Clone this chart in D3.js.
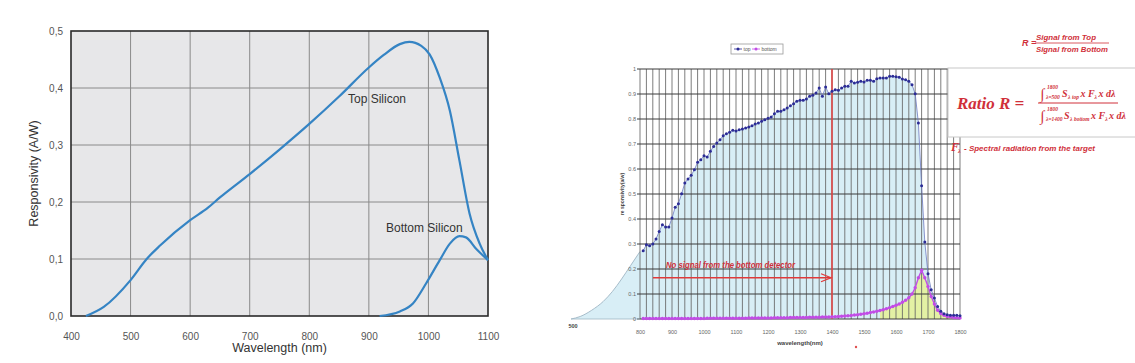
<!DOCTYPE html>
<html>
<head>
<meta charset="utf-8">
<script src="https://cdn.jsdelivr.net/npm/d3@7"></script>
<style>
  body { margin: 0; background: #fff; }
  svg { display: block; }
</style>
</head>
<body>
<div id="chart"></div>
<script>
// ---- left chart: responsivity of the two silicon layers ----
var leftXTicks = [400, 500, 600, 700, 800, 900, 1000, 1100];
var leftYTicks = [0, 0.1, 0.2, 0.3, 0.4, 0.5];
var topSiWl = [425, 455, 500, 527, 550, 600, 630, 650, 700, 750, 800, 850, 900, 925, 952, 968, 988, 1002, 1019, 1036, 1052, 1069, 1086, 1100];
var topSiVal = [0, 0.016, 0.063, 0.1, 0.124, 0.168, 0.19, 0.208, 0.249, 0.292, 0.337, 0.385, 0.436, 0.458, 0.477, 0.481, 0.474, 0.459, 0.418, 0.36, 0.273, 0.18, 0.127, 0.098];
var bottomSiWl = [918, 952, 974, 996, 1019, 1036, 1052, 1063, 1080, 1100];
var bottomSiVal = [0, 0.008, 0.022, 0.057, 0.098, 0.127, 0.14, 0.138, 0.118, 0.098];

// ---- right chart: measured top / bottom responsivity ----
var rightXTicks = [800, 900, 1000, 1100, 1200, 1300, 1400, 1500, 1600, 1700, 1800];
var rightYTicks = [0, 0.1, 0.2, 0.3, 0.4, 0.5, 0.6, 0.7, 0.8, 0.9, 1];
var sampleWl = d3.range(810, 1801, 10); // 10 nm sampling grid
var topVal = [
  0.273, 0.297, 0.293, 0.30, 0.32, 0.35, 0.377, 0.368, 0.368, 0.404,
  0.447, 0.461, 0.501, 0.544, 0.56, 0.575, 0.597, 0.627, 0.637, 0.653,
  0.648, 0.671, 0.69, 0.704, 0.717, 0.733, 0.741, 0.747, 0.755, 0.752,
  0.757, 0.76, 0.764, 0.768, 0.773, 0.78, 0.784, 0.791, 0.797, 0.803,
  0.808, 0.821, 0.831, 0.831, 0.837, 0.844, 0.853, 0.861, 0.871, 0.875,
  0.875, 0.88, 0.891, 0.895, 0.904, 0.924, 0.891, 0.928, 0.901, 0.911,
  0.917, 0.915, 0.924, 0.931, 0.931, 0.951, 0.944, 0.947, 0.951, 0.948,
  0.955, 0.955, 0.951, 0.961, 0.964, 0.964, 0.964, 0.971, 0.971, 0.969,
  0.967, 0.96, 0.957, 0.951, 0.937, 0.901, 0.784, 0.533, 0.308, 0.181,
  0.117, 0.084, 0.05, 0.031, 0.021, 0.017, 0.015, 0.015, 0.015, 0.013
];
var bottomVal = [
  0.002, 0.002, 0.002, 0.002, 0.002, 0.002, 0.002, 0.002, 0.002, 0.002,
  0.002, 0.002, 0.002, 0.002, 0.002, 0.002, 0.002, 0.002, 0.002, 0.002,
  0.003, 0.003, 0.003, 0.003, 0.003, 0.003, 0.003, 0.003, 0.003, 0.003,
  0.003, 0.003, 0.003, 0.004, 0.004, 0.004, 0.004, 0.004, 0.004, 0.004,
  0.004, 0.005, 0.005, 0.005, 0.005, 0.005, 0.006, 0.006, 0.006, 0.006,
  0.006, 0.006, 0.007, 0.007, 0.007, 0.007, 0.008, 0.008, 0.008, 0.009,
  0.009, 0.010, 0.011, 0.012, 0.013, 0.014, 0.016, 0.017, 0.019, 0.021,
  0.023, 0.026, 0.028, 0.031, 0.034, 0.037, 0.041, 0.045, 0.050, 0.055,
  0.060, 0.067, 0.075, 0.085, 0.100, 0.125, 0.165, 0.195, 0.165, 0.130,
  0.090, 0.060, 0.035, 0.022, 0.015, 0.010, 0.008, 0.006, 0.005, 0.004
];
// pasted-on extension of the shaded area down to 500 nm
var extWl = [500, 540, 590, 640, 680, 720, 760, 800];
var extVal = [0, 0.01, 0.035, 0.07, 0.11, 0.16, 0.215, 0.27];

var red = "#d0303a";
var sans = "Liberation Sans, Arial, sans-serif";
var serif = "Liberation Serif, Times New Roman, serif";

var svg = d3.select("#chart").append("svg")
    .attr("width", 1135)
    .attr("height", 363);
svg.append("rect").attr("width", 1135).attr("height", 363).attr("fill", "#fff");

// ================= left chart =================
var lx = d3.scaleLinear().domain([400, 1100]).range([71, 488]);
var ly = d3.scaleLinear().domain([0, 0.5]).range([316, 31]);
var left = svg.append("g").attr("font-family", sans);

left.append("rect")
    .attr("x", lx(400)).attr("y", ly(0.5))
    .attr("width", lx(1100) - lx(400)).attr("height", ly(0) - ly(0.5))
    .attr("fill", "#e7e7e9");

left.append("g").selectAll("line")
    .data(leftXTicks.slice(1, -1))
    .enter().append("line")
    .attr("x1", d => lx(d)).attr("x2", d => lx(d))
    .attr("y1", ly(0.5)).attr("y2", ly(0))
    .attr("stroke", "#8a8a8a").attr("stroke-width", 1);

left.append("g").selectAll("line")
    .data(leftYTicks.slice(1, -1))
    .enter().append("line")
    .attr("x1", lx(400)).attr("x2", lx(1100))
    .attr("y1", d => ly(d)).attr("y2", d => ly(d))
    .attr("stroke", "#8a8a8a").attr("stroke-width", 1);

left.append("rect")
    .attr("x", lx(400)).attr("y", ly(0.5))
    .attr("width", lx(1100) - lx(400)).attr("height", ly(0) - ly(0.5))
    .attr("fill", "none").attr("stroke", "#2a2a2a").attr("stroke-width", 1.6);

// x axis labels
left.append("g")
    .attr("transform", "translate(0," + (ly(0) + 17) + ")")
    .call(d3.axisBottom(lx).tickValues(leftXTicks).tickSize(0).tickPadding(0).tickFormat(d3.format("d")))
    .call(g => g.select(".domain").remove())
    .selectAll("text")
    .attr("font-size", "10px").attr("fill", "#555").attr("font-family", sans);

// y axis labels (comma decimal)
left.append("g")
    .attr("transform", "translate(" + (lx(400) - 8) + ",0)")
    .call(d3.axisLeft(ly).tickValues(leftYTicks).tickSize(0).tickPadding(0)
        .tickFormat(d => d3.format(".1f")(d).replace(".", ",")))
    .call(g => g.select(".domain").remove())
    .selectAll("text")
    .attr("font-size", "10px").attr("fill", "#555").attr("font-family", sans);

left.append("text")
    .attr("x", (lx(400) + lx(1100)) / 2).attr("y", 352)
    .attr("text-anchor", "middle").attr("font-size", "12.5px").attr("fill", "#333")
    .text("Wavelength (nm)");

left.append("text")
    .attr("transform", "translate(38," + ((ly(0) + ly(0.5)) / 2) + ") rotate(-90)")
    .attr("text-anchor", "middle").attr("font-size", "12.5px").attr("fill", "#333")
    .text("Responsivity (A/W)");

var lline = d3.line()
    .x(d => lx(d[0])).y(d => ly(d[1]))
    .curve(d3.curveMonotoneX);

left.append("path")
    .datum(topSiWl.map((w, i) => [w, topSiVal[i]]))
    .attr("d", lline).attr("fill", "none")
    .attr("stroke", "#3584c4").attr("stroke-width", 2.2);

left.append("path")
    .datum(bottomSiWl.map((w, i) => [w, bottomSiVal[i]]))
    .attr("d", lline).attr("fill", "none")
    .attr("stroke", "#3584c4").attr("stroke-width", 2.2);

left.append("text")
    .attr("x", 348).attr("y", 103)
    .attr("font-size", "12px").attr("fill", "#333")
    .text("Top Silicon");

left.append("text")
    .attr("x", 386).attr("y", 232)
    .attr("font-size", "12px").attr("fill", "#333")
    .text("Bottom Silicon");

// ================= right chart =================
var rx = d3.scaleLinear().domain([800, 1800]).range([640, 960]);
var ry = d3.scaleLinear().domain([0, 1]).range([319, 69]);
var ex = d3.scaleLinear().domain([500, 800]).range([571, 640]);
var right = svg.append("g").attr("font-family", sans);

var topData = sampleWl.map((w, i) => [w, topVal[i]]);
var bottomData = sampleWl.map((w, i) => [w, bottomVal[i]]);

// shaded area left of 800 nm
right.append("path")
    .datum(extWl.map((w, i) => [w, extVal[i]]))
    .attr("d", d3.area().x(d => ex(d[0])).y0(ry(0)).y1(d => ry(d[1])).curve(d3.curveMonotoneX))
    .attr("fill", "#d8eef6");
right.append("path")
    .datum(extWl.map((w, i) => [w, extVal[i]]))
    .attr("d", d3.line().x(d => ex(d[0])).y(d => ry(d[1])).curve(d3.curveMonotoneX))
    .attr("fill", "none").attr("stroke", "#9fb6c4").attr("stroke-width", 0.9);

// shaded area under top curve
right.append("path")
    .datum([[800, extVal[extVal.length - 1]]].concat(topData))
    .attr("d", d3.area().x(d => rx(d[0])).y0(ry(0)).y1(d => ry(d[1])))
    .attr("fill", "#d8eef6");

// shaded area under bottom curve (yellow)
right.append("path")
    .datum(bottomData.filter(d => d[0] >= 1550))
    .attr("d", d3.area().x(d => rx(d[0])).y0(ry(0)).y1(d => ry(d[1])))
    .attr("fill", "#e3f1a4");

// vertical grid every 20 nm
right.append("g").selectAll("line")
    .data(d3.range(800, 1801, 20))
    .enter().append("line")
    .attr("x1", d => rx(d)).attr("x2", d => rx(d))
    .attr("y1", ry(1)).attr("y2", ry(0))
    .attr("stroke", "#666").attr("stroke-width", 0.85);

// horizontal grid
right.append("g").selectAll("line")
    .data(rightYTicks)
    .enter().append("line")
    .attr("x1", rx(800) - 3).attr("x2", rx(1800))
    .attr("y1", d => ry(d)).attr("y2", d => ry(d))
    .attr("stroke", "#3a3a3a").attr("stroke-width", 1);

// baseline across the extension
right.append("line")
    .attr("x1", ex(500)).attr("x2", rx(800))
    .attr("y1", ry(0)).attr("y2", ry(0))
    .attr("stroke", "#9fb6c4").attr("stroke-width", 0.8);

// tick labels
right.append("g")
    .attr("transform", "translate(0," + (ry(0) + 11) + ")")
    .call(d3.axisBottom(rx).tickValues(rightXTicks).tickSize(0).tickPadding(0).tickFormat(d3.format("d")))
    .call(g => g.select(".domain").remove())
    .selectAll("text")
    .attr("font-size", "5.5px").attr("fill", "#666").attr("font-family", sans);

right.append("g")
    .attr("transform", "translate(" + (rx(800) - 4) + ",0)")
    .call(d3.axisLeft(ry).tickValues(rightYTicks).tickSize(0).tickPadding(0)
        .tickFormat(d3.format("~g")))
    .call(g => g.select(".domain").remove())
    .selectAll("text")
    .attr("font-size", "5.5px").attr("fill", "#666").attr("font-family", sans);

right.append("text")
    .attr("x", ex(500) + 2).attr("y", ry(0) + 9)
    .attr("text-anchor", "middle").attr("font-size", "5.5px").attr("font-weight", "bold").attr("fill", "#444")
    .text("500");

right.append("text")
    .attr("x", 800).attr("y", 345)
    .attr("text-anchor", "middle").attr("font-size", "6px").attr("font-weight", "bold").attr("fill", "#444")
    .text("wavelength(nm)");

right.append("text")
    .attr("transform", "translate(624," + ry(0.5) + ") rotate(-90)")
    .attr("text-anchor", "middle").attr("font-size", "5px").attr("font-weight", "bold").attr("fill", "#444")
    .text("re sponsivity(a/w)");

right.append("circle").attr("cx", 856).attr("cy", 347).attr("r", 1.2).attr("fill", "#e05050");

// red marker at 1400 nm
right.append("line")
    .attr("x1", rx(1400)).attr("x2", rx(1400))
    .attr("y1", ry(1)).attr("y2", ry(0))
    .attr("stroke", "#e04848").attr("stroke-width", 1.6);

// series lines and markers
right.append("path")
    .datum(topData)
    .attr("d", d3.line().x(d => rx(d[0])).y(d => ry(d[1])))
    .attr("fill", "none").attr("stroke", "#6c78c0").attr("stroke-width", 0.8);

right.append("path")
    .datum(bottomData)
    .attr("d", d3.line().x(d => rx(d[0])).y(d => ry(d[1])))
    .attr("fill", "none").attr("stroke", "#c050e8").attr("stroke-width", 1.4);

right.append("g").selectAll("circle")
    .data(bottomData)
    .enter().append("circle")
    .attr("cx", d => rx(d[0])).attr("cy", d => ry(d[1]))
    .attr("r", 1.7).attr("fill", "#c24ce6");

right.append("g").selectAll("circle")
    .data(topData)
    .enter().append("circle")
    .attr("cx", d => rx(d[0])).attr("cy", d => ry(d[1]))
    .attr("r", 1.5).attr("fill", "#2c2c96");

// arrow and note
right.append("line")
    .attr("x1", 653).attr("x2", rx(1400) - 1)
    .attr("y1", ry(0.165)).attr("y2", ry(0.165))
    .attr("stroke", "#e03a3a").attr("stroke-width", 1.5);
right.append("path")
    .attr("d", "M" + (rx(1400) - 11) + "," + (ry(0.165) - 4) + " L" + (rx(1400) - 1) + "," + ry(0.165) +
        " L" + (rx(1400) - 11) + "," + (ry(0.165) + 4))
    .attr("fill", "none").attr("stroke", "#e03a3a").attr("stroke-width", 1.3);
right.append("text")
    .attr("x", 666).attr("y", 268)
    .attr("font-size", "9px").attr("font-style", "italic").attr("font-weight", "bold").attr("fill", red)
    .attr("textLength", 129).attr("lengthAdjust", "spacingAndGlyphs")
    .text("No signal from the bottom detector");

// legend
var leg = right.append("g").attr("transform", "translate(731,44)");
leg.append("rect").attr("width", 52).attr("height", 10)
    .attr("fill", "#fff").attr("stroke", "#999").attr("stroke-width", 0.8);
leg.append("line").attr("x1", 3).attr("x2", 11).attr("y1", 5).attr("y2", 5).attr("stroke", "#2c2c96").attr("stroke-width", 0.8);
leg.append("circle").attr("cx", 7).attr("cy", 5).attr("r", 1.5).attr("fill", "#2c2c96");
leg.append("text").attr("x", 12.5).attr("y", 7).attr("font-size", "5px").attr("fill", "#555").text("top");
leg.append("line").attr("x1", 21).attr("x2", 29).attr("y1", 5).attr("y2", 5).attr("stroke", "#c24ce6").attr("stroke-width", 0.8);
leg.append("circle").attr("cx", 25).attr("cy", 5).attr("r", 1.5).attr("fill", "#c24ce6");
leg.append("text").attr("x", 30.5).attr("y", 7).attr("font-size", "5px").attr("fill", "#555").text("bottom");

// ---- formulas ----
// white box behind the ratio formula (drawn before the text)
svg.append("rect").attr("x", 948).attr("y", 68).attr("width", 200).attr("height", 69)
    .attr("fill", "#fff").attr("stroke", "#c8c8c8").attr("stroke-width", 1);

var f = svg.append("g").attr("fill", red).attr("font-style", "italic").attr("font-weight", "bold");

f.append("text").attr("x", 1022).attr("y", 46).attr("font-family", sans)
    .attr("font-size", "9px").text("R =");
f.append("text").attr("x", 1036).attr("y", 40).attr("font-family", sans)
    .attr("font-size", "8px").attr("textLength", 60).attr("lengthAdjust", "spacingAndGlyphs").text("Signal from Top");
f.append("line").attr("x1", 1035).attr("x2", 1109).attr("y1", 43).attr("y2", 43)
    .attr("stroke", red).attr("stroke-width", 0.8);
f.append("text").attr("x", 1036).attr("y", 52).attr("font-family", sans)
    .attr("font-size", "8px").attr("textLength", 72).attr("lengthAdjust", "spacingAndGlyphs").text("Signal from Bottom");

f.append("text").attr("x", 957).attr("y", 109).attr("font-family", serif)
    .attr("font-size", "17px").text("Ratio R =");

// integral sign with limits
function integralSign(y, lower) {
    f.append("text").attr("x", 1040).attr("y", y + 2).attr("font-family", serif)
        .attr("font-size", "15px").text("\u222B");
    f.append("text").attr("x", 1047).attr("y", y - 8).attr("font-family", serif)
        .attr("font-size", "5.5px").text("1800");
    f.append("text").attr("x", 1046).attr("y", y + 2).attr("font-family", serif)
        .attr("font-size", "5.5px").text(lower);
}
// S_lambda x F_lambda x d lambda
function integrand(x, y, sub) {
    var t = f.append("text").attr("x", x).attr("y", y).attr("font-family", serif).attr("font-size", "10px");
    t.append("tspan").text("S");
    t.append("tspan").attr("font-size", "5.5px").attr("dy", 2).attr("dx", 0.5).text(sub);
    t.append("tspan").attr("dy", -2).attr("dx", 1.5).text("x F");
    t.append("tspan").attr("font-size", "5.5px").attr("dy", 2).text("\u03BB");
    t.append("tspan").attr("dy", -2).attr("dx", 1.5).text("x d\u03BB");
}

integralSign(97, "\u03BB=500");
integrand(1062, 97, "\u03BB top");
f.append("line").attr("x1", 1038).attr("x2", 1118).attr("y1", 103).attr("y2", 103)
    .attr("stroke", red).attr("stroke-width", 1);
integralSign(119, "\u03BB=1400");
integrand(1064, 119, "\u03BB bottom");

f.append("text").attr("x", 951).attr("y", 151).attr("font-family", serif)
    .attr("font-size", "12px").text("F");
f.append("text").attr("x", 958).attr("y", 153).attr("font-family", serif)
    .attr("font-size", "6px").text("\u03BB");
f.append("text").attr("x", 964).attr("y", 151).attr("font-family", sans)
    .attr("font-size", "7.5px").attr("textLength", 131).attr("lengthAdjust", "spacingAndGlyphs")
    .text("- Spectral radiation from the target");
</script>
</body>
</html>
